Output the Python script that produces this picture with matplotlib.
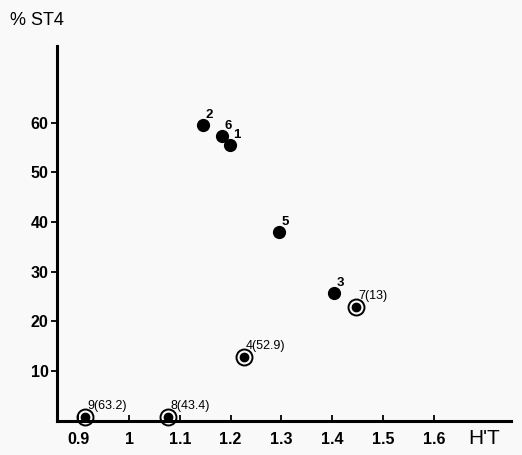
import matplotlib
matplotlib.use('Agg')
import matplotlib.pyplot as plt
import numpy as np

plt.rcParams['font.family'] = ['Liberation Sans', 'DejaVu Sans']

# Data
filled_labels = ['2', '6', '1', '5', '3']
filled_x = [1.146, 1.183, 1.199, 1.295, 1.404]
filled_y = [59.6, 57.3, 55.5, 38.0, 25.8]

ringed_labels = ['7(13)', '4(52.9)', '8(43.4)', '9(63.2)']
ringed_x = [1.447, 1.226, 1.077, 0.913]
ringed_y = [22.9, 12.9, 0.8, 0.8]

xticks = [0.9, 1.0, 1.1, 1.2, 1.3, 1.4, 1.5, 1.6]
xtick_labels = ['0.9', '1', '1.1', '1.2', '1.3', '1.4', '1.5', '1.6']
yticks = [10, 20, 30, 40, 50, 60]

# Layout
fig = plt.figure(figsize=(5.22, 4.55), dpi=100)
fig.patch.set_facecolor('#f9f9f9')
ax = fig.add_axes([0.109, 0.075, 0.87, 0.824])
ax.set_facecolor('#f9f9f9')

# Plot
ax.plot(filled_x, filled_y, 'o', color='black', ms=8.5, clip_on=False)
ax.plot(ringed_x, ringed_y, 'o', color='black', ms=6, clip_on=False)
ax.plot(ringed_x, ringed_y, 'o', mfc='none', mec='black', mew=1.4, ms=11.5, clip_on=False)

for lab, x, y in zip(filled_labels, filled_x, filled_y):
    ax.annotate(lab, (x, y), xytext=(2, 2.5), textcoords='offset points',
                ha='left', va='bottom', fontsize=9.5, fontweight='bold')
for lab, x, y in zip(ringed_labels, ringed_x, ringed_y):
    ax.annotate(lab, (x, y), xytext=(1.5, 3.5), textcoords='offset points',
                ha='left', va='bottom', fontsize=9)

# Details
ax.set_xlim(0.858, 1.752)
ax.set_ylim(0, 75.4)
for s in ['top', 'right']:
    ax.spines[s].set_visible(False)
ax.spines['left'].set_linewidth(2.2)
ax.spines['bottom'].set_linewidth(2.2)

ax.set_xticks(xticks)
ax.set_xticklabels(xtick_labels)
ax.set_yticks(yticks)
ax.tick_params(axis='x', direction='in', length=4, width=1.3, labelsize=11.5, pad=8)
ax.tick_params(axis='y', direction='out', length=4, width=1.3, labelsize=11.5, pad=2)
for t in ax.get_xticklabels() + ax.get_yticklabels():
    t.set_fontweight('bold')

fig.text(0.02, 0.955, '% ST4', fontsize=13, ha='left', va='center')
fig.text(0.928, 0.037, "H'T", fontsize=15, ha='center', va='center')

fig.savefig('out.png', dpi=100, facecolor=fig.get_facecolor())
